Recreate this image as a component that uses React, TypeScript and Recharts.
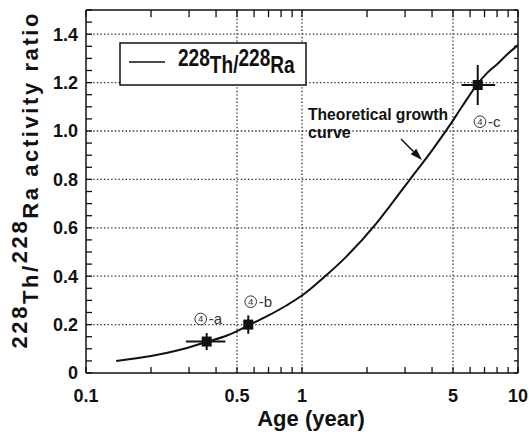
import {
  ComposedChart,
  ErrorBar,
  Legend,
  Line,
  ReferenceLine,
  Scatter,
  XAxis,
  YAxis
} from "recharts";

// theoretical growth curve
const AGE = [0.138, 0.2, 0.27, 0.36, 0.45, 0.56, 0.7, 0.85, 1, 1.28, 1.6, 2.18, 2.55, 3.1, 4, 4.8, 5.5, 6.44, 7.2, 8.1, 9, 10];
const RATIO = [0.05, 0.07, 0.095, 0.128, 0.155, 0.195, 0.238, 0.28, 0.32, 0.4, 0.48, 0.612, 0.69, 0.79, 0.92, 1.02, 1.1, 1.19, 1.24, 1.28, 1.32, 1.355];

// measured samples ④-a, ④-b, ④-c
const SAMPLE_AGE = [0.362, 0.564, 6.51];
const SAMPLE_RATIO = [0.13, 0.2, 1.19];
const SAMPLE_AGE_ERR = [[0.072, 0.08], [0.02, 0.02], [1.03, 1.33]];
const SAMPLE_RATIO_ERR = [0.035, 0.038, 0.083];

const X_TICKS = [0.1, 0.2, 0.3, 0.4, 0.5, 0.6, 0.7, 0.8, 0.9, 1, 2, 3, 4, 5, 6, 7, 8, 9, 10];
const X_LABELS = [0.1, 0.5, 1, 5, 10];
const X_GRID = [0.5, 1, 5];
const Y_TICKS = [0, 0.05, 0.1, 0.15, 0.2, 0.25, 0.3, 0.35, 0.4, 0.45, 0.5, 0.55, 0.6, 0.65, 0.7, 0.75, 0.8, 0.85, 0.9, 0.95, 1, 1.05, 1.1, 1.15, 1.2, 1.25, 1.3, 1.35, 1.4, 1.45, 1.5];
const Y_LABELS = [0, 0.2, 0.4, 0.6, 0.8, 1, 1.2, 1.4];
const Y_GRID = [0.2, 0.4, 0.6, 0.8, 1, 1.2, 1.4];

const X_MIN = 0.1;
const X_MAX = 10;
const Y_MAX = 1.5;
// inward ticks on the top and right frame, in data units
const TOP_TICK_END = 1.47;
const RIGHT_TICK_END = 9.58;

const INK = "#111";
const FONT = "'Liberation Sans', Arial, sans-serif";

const curve = AGE.map((t, i) => ({ t, v: RATIO[i] }));
const samples = SAMPLE_AGE.map((t, i) => ({
  t,
  v: SAMPLE_RATIO[i],
  ex: SAMPLE_AGE_ERR[i],
  ey: SAMPLE_RATIO_ERR[i]
}));

const tickFont = { fontSize: 18, fontWeight: 700, fontFamily: FONT, fill: INK };
const frame = { stroke: INK, strokeWidth: 1.5 };
const tickStroke = { stroke: INK, strokeWidth: 1.3 };

function LegendBox() {
  return (
    <svg width={188} height={44} style={{ display: "block" }}>
      <rect x={1} y={1} width={186} height={42} fill="#fff" stroke={INK} strokeWidth={1.5} />
      <line x1={10} x2={46} y1={20} y2={20} stroke={INK} strokeWidth={1.5} />
      <g transform="translate(59,0) scale(0.83,1)">
        <text x={0} y={24} fontFamily={FONT} fontWeight={700} fontSize={23} fill={INK}>
          228<tspan dy={7}>Th</tspan>/<tspan dy={-7}>228</tspan>
          <tspan dy={7}>Ra</tspan>
        </text>
      </g>
    </svg>
  );
}

function SquareMark(props: any) {
  const { cx, cy } = props;
  return <rect x={cx - 5} y={cy - 5} width={10} height={10} fill={INK} />;
}

function Circled({ x, y, tag }: { x: number; y: number; tag: string }) {
  return (
    <g fontFamily={FONT} fill="#333">
      <circle cx={x} cy={y} r={5.8} fill="none" stroke="#333" strokeWidth={1} />
      <text x={x} y={y + 3.3} fontSize={9.5} textAnchor="middle">4</text>
      <text x={x + 8} y={y + 5} fontSize={15}>{tag}</text>
    </g>
  );
}

export default function App() {
  return (
    <div style={{ position: "absolute", left: 0, top: 0, width: 529, height: 437, background: "#fff" }}>
      <ComposedChart width={529} height={437} margin={{ top: 9, right: 10, bottom: 4, left: 26 }}>
        <XAxis
          xAxisId="b"
          dataKey="t"
          type="number"
          scale="log"
          domain={[X_MIN, X_MAX]}
          allowDataOverflow
          ticks={X_TICKS}
          interval={0}
          height={60}
          tickSize={-6}
          tickMargin={22}
          axisLine={frame}
          tickLine={tickStroke}
          tick={tickFont}
          tickFormatter={(v) => (X_LABELS.includes(v) ? String(v) : "")}
        />
        <XAxis
          xAxisId="top"
          orientation="top"
          type="number"
          scale="log"
          domain={[X_MIN, X_MAX]}
          allowDataOverflow
          height={1}
          tick={false}
          tickLine={false}
          axisLine={frame}
        />
        <YAxis
          yAxisId="l"
          dataKey="v"
          type="number"
          domain={[0, Y_MAX]}
          allowDataOverflow
          ticks={Y_TICKS}
          interval={0}
          width={60}
          tickSize={-6}
          tickMargin={14}
          axisLine={frame}
          tickLine={tickStroke}
          tick={tickFont}
          tickFormatter={(v) => (Y_LABELS.includes(v) ? (v === 0 ? "0" : v.toFixed(1)) : "")}
        />
        <YAxis
          yAxisId="r"
          orientation="right"
          type="number"
          domain={[0, Y_MAX]}
          allowDataOverflow
          width={1}
          tick={false}
          tickLine={false}
          axisLine={frame}
        />
        {Y_GRID.map((y) => (
          <ReferenceLine key={"gy" + y} xAxisId="b" yAxisId="l" y={y} stroke="#333" strokeWidth={1.3} strokeDasharray="1.4 2.2" />
        ))}
        {X_GRID.map((x) => (
          <ReferenceLine key={"gx" + x} xAxisId="b" yAxisId="l" x={x} stroke="#333" strokeWidth={1.3} strokeDasharray="1.4 2.2" />
        ))}
        {X_TICKS.map((x) => (
          <ReferenceLine
            key={"tt" + x}
            xAxisId="b"
            yAxisId="l"
            segment={[{ x, y: Y_MAX }, { x, y: TOP_TICK_END }]}
            ifOverflow="visible"
            stroke={INK}
            strokeWidth={1.3}
          />
        ))}
        {Y_TICKS.map((y) => (
          <ReferenceLine
            key={"rt" + y}
            xAxisId="b"
            yAxisId="l"
            segment={[{ x: X_MAX, y }, { x: RIGHT_TICK_END, y }]}
            ifOverflow="visible"
            stroke={INK}
            strokeWidth={1.3}
          />
        ))}
        <Line
          xAxisId="b"
          yAxisId="l"
          data={curve}
          dataKey="v"
          name="228Th/228Ra"
          type="monotone"
          stroke={INK}
          strokeWidth={2}
          dot={false}
          isAnimationActive={false}
        />
        <Scatter
          xAxisId="b"
          yAxisId="l"
          data={samples}
          dataKey="v"
          shape={SquareMark}
          legendType="none"
          isAnimationActive={false}
        >
          <ErrorBar dataKey="ex" direction="x" width={0} stroke={INK} strokeWidth={2} isAnimationActive={false} />
          <ErrorBar dataKey="ey" direction="y" width={0} stroke={INK} strokeWidth={2} isAnimationActive={false} />
        </Scatter>
        <Legend
          layout="vertical"
          align="center"
          verticalAlign="middle"
          content={() => <LegendBox />}
          wrapperStyle={{ left: 119, top: 42, width: 188, height: 44 }}
        />
      </ComposedChart>
      <svg width={529} height={437} style={{ position: "absolute", left: 0, top: 0, pointerEvents: "none" }}>
        <text
          transform="translate(38,181) rotate(-90)"
          textAnchor="middle"
          fontFamily={FONT}
          fontWeight={700}
          fontSize={22}
          fill={INK}
          textLength={335}
          lengthAdjust="spacing"
        >
          <tspan dy={-11}>228</tspan>
          <tspan dy={11}>Th/</tspan>
          <tspan dy={-11}>228</tspan>
          <tspan dy={11}>Ra activity ratio</tspan>
        </text>
        <text x={311} y={426} textAnchor="middle" fontFamily={FONT} fontWeight={700} fontSize={22} fill={INK}>
          Age (year)
        </text>
        <g fontFamily={FONT} fontWeight={700} fontSize={16} fill={INK}>
          <text x={308} y={120} textLength={140} lengthAdjust="spacingAndGlyphs">Theoretical growth</text>
          <text x={308} y={137.5}>curve</text>
        </g>
        <line x1={401} y1={139} x2={413.5} y2={151.5} stroke={INK} strokeWidth={1.5} />
        <polygon points="422,160 410.7,154.3 416.3,148.7" fill={INK} />
        <Circled x={200.7} y={319} tag="-a" />
        <Circled x={250.7} y={301.7} tag="-b" />
        <Circled x={480} y={121.7} tag=" -c" />
      </svg>
    </div>
  );
}
